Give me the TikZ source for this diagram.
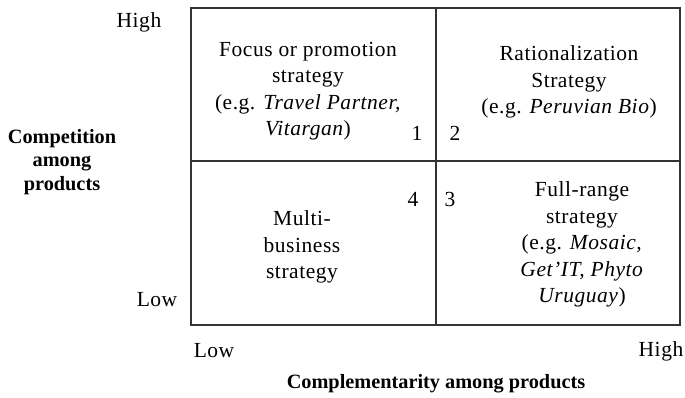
\documentclass[tikz,border=0pt]{standalone}
\usepackage{fontspec}
\setmainfont{Liberation Serif}[LetterSpace=2.5]
\newfontfamily\boldlabel{Liberation Serif}[LetterSpace=0]
\begin{document}
\begin{tikzpicture}[x=1pt,y=-1pt,
  grid/.style={line width=1.4pt,draw=black!80},
  cell/.style={align=center,font=\fontsize{21.5}{26.5}\selectfont,inner sep=0pt},
  num/.style={font=\fontsize{21.5}{24}\selectfont,inner sep=0pt},
  axis/.style={font=\fontsize{21.5}{24}\selectfont,inner sep=0pt},
  title/.style={align=center,font=\boldlabel\bfseries\fontsize{20.3}{23.5}\selectfont,inner sep=0pt}]
\useasboundingbox (0,0) rectangle (685,397);

% frame and dividers
\coordinate (nw) at (191,8);
\coordinate (se) at (680,325);
\coordinate (mt) at (436,8);
\coordinate (mb) at (436,325);
\coordinate (ml) at (191,161);
\coordinate (mr) at (680,161);
\draw[grid] (nw) rectangle (se);
\draw[grid] (mt) -- (mb);
\draw[grid] (ml) -- (mr);

% quadrant texts
\node[cell] (q1) at (308,91) {Focus or promotion\\strategy\\(e.g. \textit{Travel Partner,}\\\textit{Vitargan})};
\node[cell] (q2) at (569,82) {Rationalization\\Strategy\\(e.g. \textit{Peruvian Bio})};
\node[cell] (q4) at (302,247) {Multi-\\business\\strategy};
\node[cell] (q3) at (582,244.5) {Full-range\\strategy\\(e.g. \textit{Mosaic,}\\\textit{Get'IT, Phyto}\\\textit{Uruguay})};

% quadrant numbers
\node[num] (n1) at (417,133) {1};
\node[num] (n2) at (455,133) {2};
\node[num] (n4) at (413,199) {4};
\node[num] (n3) at (450,199) {3};

% axis ends
\node[axis] (yhi) at (139,22) {High};
\node[axis] (ylo) at (157,300) {Low};
\node[axis] (xlo) at (214,351) {Low};
\node[axis] (xhi) at (661,351) {High};

% axis titles
\node[title] (ytitle) at (62,162) {Competition\\among\\products};
\node[title] (xtitle) at (436,384) {Complementarity among products};
\end{tikzpicture}
\end{document}
